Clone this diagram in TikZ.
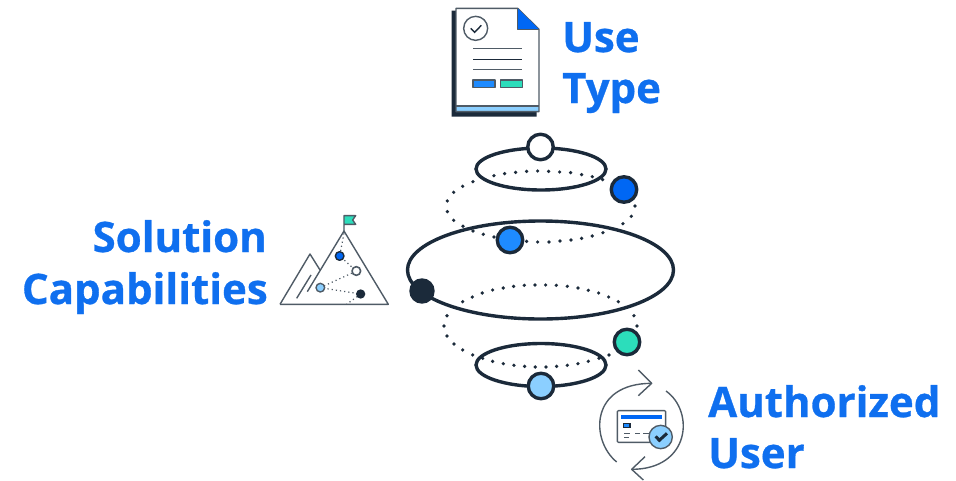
\documentclass[tikz,border=0pt]{standalone}
\usepackage{fontspec}
\setmainfont{Open Sans}[BoldFont={Open Sans Bold},BoldFeatures={FakeBold=0.7}]
\definecolor{ink}{HTML}{1B2A3A}
\definecolor{gr}{HTML}{4F5B66}
\definecolor{tb}{HTML}{0F6FEF}
\definecolor{bb}{HTML}{0067F4}
\definecolor{mb}{HTML}{1E8BFF}
\definecolor{lb}{HTML}{8BCFFF}
\definecolor{tl}{HTML}{2CDDBB}
\tikzset{
 ttl/.style={inner sep=0pt,text=tb,font=\fontsize{42}{52}\selectfont\bfseries},
 ball/.style={circle,draw=ink,line width=3.4pt,minimum size=25.5pt,inner sep=0pt},
 orbit/.style={draw=ink,line width=3.4pt},
 icon/.style={draw=gr,line width=1.4pt,line join=round},
 dk/.style={draw=ink,line width=1.4pt},
 dotl/.style={draw=gr,line width=1.2pt,dash pattern=on 1.2pt off 3pt},
}
\begin{document}
\begin{tikzpicture}[x=1pt,y=-1pt]
\useasboundingbox (0,0) rectangle (956,480);
% orbit dots
\begin{scope}[shift={(400,125)},x=0.3333pt,y=-0.3333pt]
\foreach \a/\b in {282/152,314/146,347/142,380/139,413/138,446/139,479/141,512/143,545/149,577/155,608/164,219/170,188/184,161/202,142/228,142/260,161/286,189/304,219/318,250/328,282/336,380/349,413/351,447/351,480/348,513/345,545/340,577/333,609/323,669/296,694/274,705/243}
{\fill[ink] (\a,\b) circle[radius=5.5];}
\end{scope}
\begin{scope}[shift={(400,260)},x=0.3333pt,y=-0.3333pt]
\foreach \a/\b in {188/125,217/111,247/99,278/90,310/84,341/79,373/76,405/75,437/75,469/76,502/79,534/84,565/91,596/99,626/111,655/125,141/167,132/198,141/228,162/252,188/270,218/285,248/295,278/304,310/311,342/316,374/319,406/321,438/321,470/319,502/316,534/311,565/304,597/295,627/285,702/167,711/198}
{\fill[ink] (\a,\b) circle[radius=5.5];}
\end{scope}
% orbits
\draw[orbit] (541,169) ellipse [x radius=65,y radius=21];
\draw[orbit] (540.5,270) ellipse [x radius=133,y radius=49];
\draw[orbit] (541,365) ellipse [x radius=65,y radius=21.5];
\node[ball,fill=white] (b1) at (540.5,147) {};
\node[ball,fill=bb] (b2) at (624,189.5) {};
\node[ball,fill=mb] (b3) at (510,240) {};
\node[ball,fill=ink,minimum size=22pt] (b4) at (422,291) {};
\node[ball,fill=tl] (b5) at (627,342) {};
\node[ball,fill=lb] (b6) at (541,386) {};
% texts
\node[ttl,anchor=base west] (t1) at (562,52) {Use};
\node[ttl,anchor=base west] (t2) at (562,103) {Type};
\node[ttl,anchor=base east] (t3) at (267,252) {Solution};
\node[ttl,anchor=base east] (t4) at (268,304) {Capabilities};
\node[ttl,anchor=base west] (t5) at (708,417) {Authorized};
\node[ttl,anchor=base west] (t6) at (708,468) {User};
% document icon
\begin{scope}[shift={(430,0)},x=0.3333pt,y=-0.3333pt]
\fill[ink] (65,32) -- (78,32) -- (78,335) -- (320,335) -- (320,350) -- (65,350) -- cycle;
\fill[white] (78,25) -- (263,25) -- (327,88) -- (327,335) -- (78,335) -- cycle;
\fill[lb] (78,318) rectangle (327,335);
\draw[icon] (78,25) -- (263,25) -- (327,88) -- (327,335) -- (78,335) -- cycle;
\draw[icon] (78,318) -- (327,318);
\fill[bb] (263,25) -- (327,88) -- (263,88) -- cycle;
\draw[icon] (263,25) -- (263,88) -- (327,88);
\draw[icon] (137,85) circle[radius=36];
\draw[dk] (122,85) -- (134,97) -- (154,76);
\draw[icon,line width=1.5pt] (130,145) -- (275,145);
\draw[dk] (130,178) -- (275,178);
\draw[icon,line width=1.5pt] (130,209) -- (275,209);
\draw[icon,fill=mb] (129,240) rectangle (195,262);
\draw[icon,fill=tl] (211,240) rectangle (277,262);
\end{scope}
% mountain icon
\begin{scope}[shift={(270,205)},x=0.3333pt,y=-0.3333pt]
\draw[icon] (30,298) -- (355,298) -- (222,78) -- (112,260);
\draw[icon] (30,298) -- (120,147) -- (150,195);
\draw[icon] (80,280) -- (123,210);
\draw[icon,fill=tl] (222,78) -- (222,32) -- (257,32) -- (248,45) -- (257,58) -- (222,58);
\draw[dotl] (222,85) -- (209,153) -- (259,198) -- (151,248) -- (272,267) -- (230,298);
\draw[icon,fill=bb,draw=ink] (209,153) circle[radius=13];
\draw[icon,fill=white,line width=1.6pt] (259,198) circle[radius=13];
\draw[icon,fill=lb] (151,248) circle[radius=13];
\fill[ink] (272,267) circle[radius=14];
\end{scope}
% authorized user icon
\begin{scope}[shift={(590,365)},x=0.3333pt,y=-0.3333pt]
\draw[icon] (80,291) .. controls (0,225) and (0,55) .. (185,55);
\draw[icon] (228,78) .. controls (315,140) and (300,313) .. (125,313);
\draw[icon] (145,15) -- (185,55) -- (145,92);
\draw[icon] (165,275) -- (125,313) -- (160,345);
\draw[icon,rounded corners=1pt] (82,137) rectangle (227,232);
\fill[bb] (93,150) rectangle (215,162);
\draw[dk,fill=mb] (100,175) rectangle (120,187);
\draw[icon] (103,206) -- (120,206) (135,206) -- (150,206) (160,206) -- (176,206) (103,218) -- (118,218);
\draw[icon,fill=lb] (212,216) circle[radius=35];
\draw[ink,line width=3pt] (197,214) -- (208,226) -- (231,205);
\end{scope}
\end{tikzpicture}
\end{document}
